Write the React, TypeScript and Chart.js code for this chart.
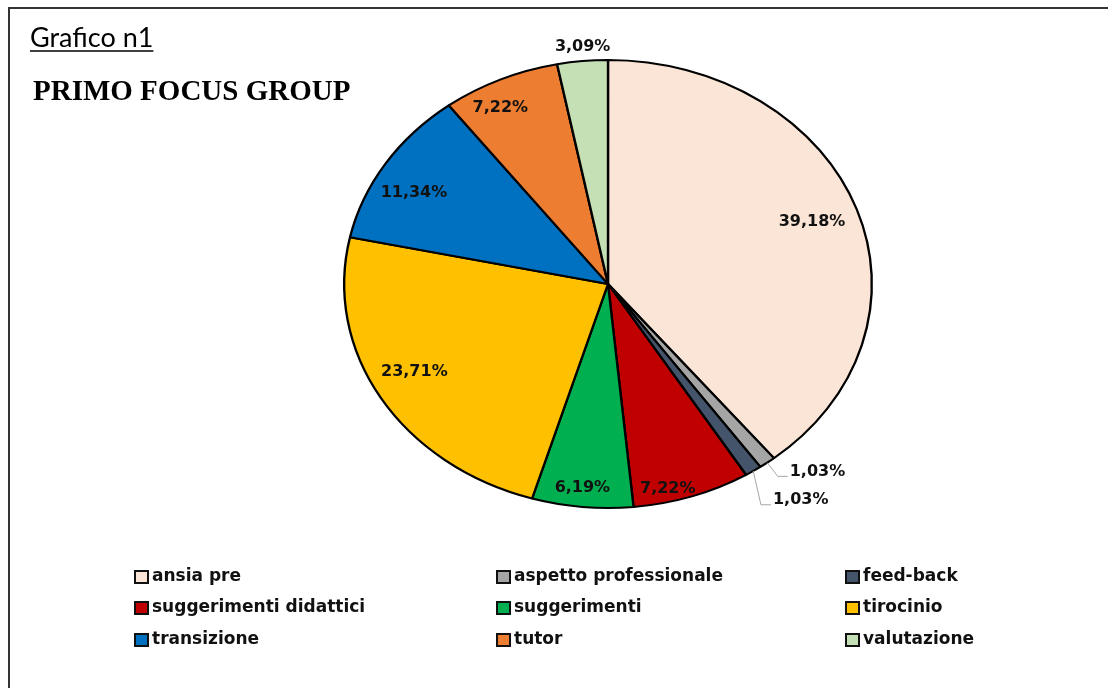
import React, { useEffect, useRef } from 'react';
import { Chart, registerables } from 'chart.js';

Chart.register(...registerables);

// ---- data ----
const categories = [
  'ansia pre',
  'aspetto professionale',
  'feed-back',
  'suggerimenti didattici',
  'suggerimenti',
  'tirocinio',
  'transizione',
  'tutor',
  'valutazione',
];
const percentages = [39.18, 1.03, 1.03, 7.22, 6.19, 23.71, 11.34, 7.22, 3.09];
const sliceColors = [
  '#FBE5D6',
  '#A5A5A5',
  '#44546A',
  '#C00000',
  '#00B050',
  '#FFC000',
  '#0070C0',
  '#ED7D31',
  '#C5E0B4',
];
const chartLabel = 'Grafico n1';
const chartTitle = 'PRIMO FOCUS GROUP';

// ---- label placement (style: radial factor + nudge, leader line flag) ----
const labelPlacement = [
  { f: 0.8, dx: 5, dy: -2, leader: false },
  { f: 1.06, dx: 1, dy: 3, leader: true },
  { f: 1.17, dx: -17, dy: 2, leader: true },
  { f: 0.95, dx: -20, dy: 3, leader: false },
  { f: 0.92, dx: -2, dy: -1, leader: false },
  { f: 0.8, dx: -12, dy: -3, leader: false },
  { f: 0.8, dx: -16, dy: 5, leader: false },
  { f: 0.85, dx: -16, dy: -2, leader: false },
  { f: 1.07, dx: 2, dy: 1, leader: false },
];

const SX = 265 / 225; // horizontal stretch of the pie (ellipse)
const fmtPct = (v: number) => v.toFixed(2).replace('.', ',') + '%';

const ellipsePlugin = {
  id: 'ellipsePie',
  beforeDatasetsDraw(chart: any) {
    const arc = chart.getDatasetMeta(0).data[0];
    const ctx = chart.ctx;
    ctx.save();
    ctx.translate(arc.x, arc.y);
    ctx.scale(SX, 1);
    ctx.translate(-arc.x, -arc.y);
  },
  afterDatasetsDraw(chart: any) {
    const ctx = chart.ctx;
    ctx.restore();
    const meta = chart.getDatasetMeta(0);
    const values = chart.data.datasets[0].data as number[];
    ctx.save();
    ctx.font = 'bold 16px "DejaVu Sans"';
    ctx.fillStyle = '#111';
    meta.data.forEach((arc: any, i: number) => {
      const mid = (arc.startAngle + arc.endAngle) / 2;
      const r = arc.outerRadius;
      const cx = arc.x;
      const cy = arc.y;
      const p = labelPlacement[i];
      const x = cx + Math.cos(mid) * r * p.f * SX + p.dx;
      const y = cy + Math.sin(mid) * r * p.f + p.dy;
      const text = fmtPct(values[i]);
      if (p.leader) {
        const rx = cx + Math.cos(mid) * r * SX;
        const ry = cy + Math.sin(mid) * r;
        ctx.strokeStyle = '#A6A6A6';
        ctx.lineWidth = 1;
        ctx.beginPath();
        ctx.moveTo(rx, ry);
        ctx.lineTo(x, y);
        ctx.lineTo(x + 10, y);
        ctx.stroke();
        ctx.textAlign = 'left';
        ctx.textBaseline = 'middle';
        ctx.fillText(text, x + 12, y - 5);
      } else {
        ctx.textAlign = 'center';
        ctx.textBaseline = 'middle';
        ctx.fillText(text, x, y);
      }
    });
    ctx.restore();
  },
  afterDraw(chart: any) {
    const ctx = chart.ctx;
    const W = chart.width;
    const H = chart.height;
    ctx.save();
    // frame (top + left)
    ctx.strokeStyle = '#333';
    ctx.lineWidth = 2;
    ctx.beginPath();
    ctx.moveTo(W + 2, 8);
    ctx.lineTo(9, 8);
    ctx.lineTo(9, H + 2);
    ctx.stroke();

    // "Grafico n1" underlined
    ctx.fillStyle = '#000';
    ctx.font = '27px Lato';
    ctx.textAlign = 'left';
    ctx.textBaseline = 'alphabetic';
    ctx.fillText(chartLabel, 30, 47);
    const w1 = ctx.measureText(chartLabel).width;
    ctx.lineWidth = 1.5;
    ctx.strokeStyle = '#000';
    ctx.beginPath();
    ctx.moveTo(30, 51);
    ctx.lineTo(30 + w1, 51);
    ctx.stroke();

    // bold serif title
    ctx.font = 'bold 29px "Liberation Serif"';
    ctx.fillText(chartTitle, 33, 100);

    // legend: 3 columns x 3 rows
    const colX = [135, 497, 846];
    const rowY = [577, 608, 640];
    const labels = chart.data.labels as string[];
    const colors = chart.data.datasets[0].backgroundColor as string[];
    ctx.font = 'bold 17px "DejaVu Sans"';
    ctx.textBaseline = 'middle';
    labels.forEach((lab, i) => {
      const x = colX[i % 3];
      const y = rowY[Math.floor(i / 3)];
      ctx.fillStyle = colors[i];
      ctx.fillRect(x, y - 6, 13, 12);
      ctx.strokeStyle = '#111';
      ctx.lineWidth = 2;
      ctx.strokeRect(x, y - 6, 13, 12);
      ctx.fillStyle = '#111';
      ctx.fillText(lab, x + 17, y);
    });
    ctx.restore();
  },
};

export default function App() {
  const ref = useRef<HTMLCanvasElement | null>(null);
  useEffect(() => {
    document.body.style.margin = '0';
    const canvas = ref.current!;
    const chart = new Chart(canvas, {
      type: 'pie',
      data: {
        labels: categories,
        datasets: [
          {
            data: percentages,
            backgroundColor: sliceColors,
            borderColor: '#000',
            borderWidth: 2,
          },
        ],
      },
      options: {
        responsive: false,
        animation: false,
        devicePixelRatio: 1,
        events: [],
        layout: { padding: { top: 59, bottom: 179, left: 383, right: 275 } },
        plugins: {
          legend: { display: false },
          tooltip: { enabled: false },
          title: { display: false },
        },
      },
      plugins: [ellipsePlugin],
    });
    return () => chart.destroy();
  }, []);
  return (
    <div style={{ width: 1108, height: 688, background: '#fff' }}>
      <canvas ref={ref} width={1108} height={688} style={{ display: 'block' }} />
    </div>
  );
}
